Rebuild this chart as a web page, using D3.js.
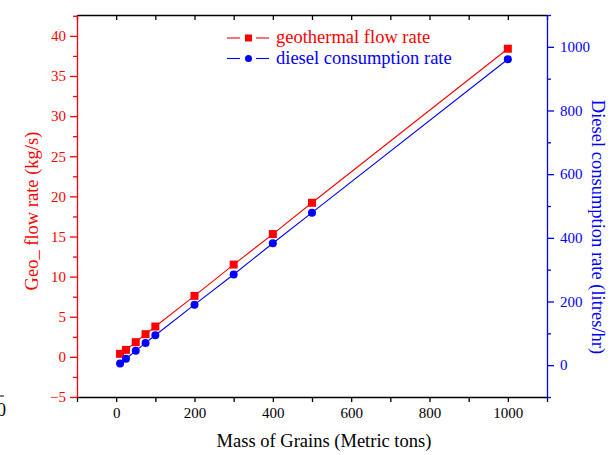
<!DOCTYPE html>
<html>
<head>
<meta charset="utf-8">
<script src="https://cdn.jsdelivr.net/npm/d3@7"></script>
<style>
  body { margin: 0; background: #fff; }
  text { font-family: "Liberation Serif", "Times New Roman", serif; }
</style>
</head>
<body>
<script>
// chart data
var mass = [10, 25, 50, 75, 100, 200, 300, 400, 500, 1000];
var geoFlow = [0.38, 0.87, 1.83, 2.83, 3.78, 7.6, 11.5, 15.3, 19.2, 38.4];
var diesel = [5, 20, 45, 70, 94, 190, 285, 383, 479, 961];

var xTicks = [0, 200, 400, 600, 800, 1000];
var leftTicks = [-5, 0, 5, 10, 15, 20, 25, 30, 35, 40];
var rightTicks = [0, 200, 400, 600, 800, 1000];

var width = 611;
var height = 455;
var plotLeft = 77, plotRight = 547, plotTop = 15, plotBottom = 397;

var svg = d3.select('body').append('svg').attr('width', width).attr('height', height);

var x = d3.scaleLinear().domain([-100, 1100]).range([plotLeft, plotRight]);
var yL = d3.scaleLinear().domain([-5, 42.6]).range([plotBottom, plotTop]);
var yR = d3.scaleLinear().domain([-100, 1100]).range([plotBottom, plotTop]);

var hundreds = d3.range(-100, 1101, 100);
var fmt = d3.format('d');

var styleText = function(g, color){
  g.attr('font-family', '"Liberation Serif", serif');
  g.selectAll('text').attr('fill', color)
    .style('font-size', '15px')
    .style('font-family', '"Liberation Serif", serif');
};

// top axis, ticks only
svg.append('g')
  .attr('transform', 'translate(0,' + plotTop + ')')
  .call(d3.axisBottom(x).tickValues(hundreds).tickSize(5).tickSizeOuter(0).tickFormat(''))
  .call(function(g){ g.selectAll('line,path').attr('stroke', '#000').attr('stroke-width', 1.3); });

// bottom axis
svg.append('g')
  .attr('transform', 'translate(0,' + plotBottom + ')')
  .call(d3.axisBottom(x).tickValues(hundreds).tickSize(5).tickSizeOuter(0).tickPadding(5)
    .tickFormat(function(d){ return xTicks.indexOf(d) >= 0 ? fmt(d) : ''; }))
  .call(function(g){
    g.selectAll('line,path').attr('stroke', '#000').attr('stroke-width', 1.3);
    styleText(g, '#000');
  });

// left axis (red)
var leftMinor = leftTicks.map(function(d){ return d + 2.5; }).filter(function(d){ return d <= 42.6; });
svg.append('g')
  .attr('transform', 'translate(' + plotLeft + ',0)')
  .call(d3.axisLeft(yL).tickValues(leftMinor).tickSize(4).tickSizeOuter(0).tickFormat(''))
  .call(function(g){ g.select('.domain').remove(); g.selectAll('line').attr('stroke', '#f00').attr('stroke-width', 1.3); });
svg.append('g')
  .attr('transform', 'translate(' + plotLeft + ',0)')
  .call(d3.axisLeft(yL).tickValues(leftTicks).tickSize(7).tickSizeOuter(0).tickPadding(4).tickFormat(fmt))
  .call(function(g){
    g.selectAll('line,path').attr('stroke', '#f00').attr('stroke-width', 1.3);
    styleText(g, '#f00');
  });

// right axis (blue)
var rightMinor = [-100, 100, 300, 500, 700, 900, 1100];
svg.append('g')
  .attr('transform', 'translate(' + plotRight + ',0)')
  .call(d3.axisRight(yR).tickValues(rightMinor).tickSize(4).tickSizeOuter(0).tickFormat(''))
  .call(function(g){ g.select('.domain').remove(); g.selectAll('line').attr('stroke', '#00f').attr('stroke-width', 1.3); });
svg.append('g')
  .attr('transform', 'translate(' + plotRight + ',0)')
  .call(d3.axisRight(yR).tickValues(rightTicks).tickSize(7).tickSizeOuter(0).tickPadding(6).tickFormat(fmt))
  .call(function(g){
    g.selectAll('line,path').attr('stroke', '#00f').attr('stroke-width', 1.3);
    styleText(g, '#00f');
  });

// series
var geoData = mass.map(function(m, i){ return {x: m, y: geoFlow[i]}; });
var dieselData = mass.map(function(m, i){ return {x: m, y: diesel[i]}; });

var lineL = d3.line().x(function(d){ return x(d.x); }).y(function(d){ return yL(d.y); });
var lineR = d3.line().x(function(d){ return x(d.x); }).y(function(d){ return yR(d.y); });

svg.append('path').datum(geoData).attr('d', lineL)
  .attr('fill', 'none').attr('stroke', '#f00').attr('stroke-width', 1.1);
svg.append('path').datum(dieselData).attr('d', lineR)
  .attr('fill', 'none').attr('stroke', '#00f').attr('stroke-width', 1.1);

svg.selectAll('.geo').data(geoData).enter().append('rect')
  .attr('class', 'geo')
  .attr('x', function(d){ return x(d.x) - 4; })
  .attr('y', function(d){ return yL(d.y) - 4; })
  .attr('width', 8).attr('height', 8)
  .attr('fill', '#f00');

svg.selectAll('.dsl').data(dieselData).enter().append('circle')
  .attr('class', 'dsl')
  .attr('cx', function(d){ return x(d.x); })
  .attr('cy', function(d){ return yR(d.y); })
  .attr('r', 4)
  .attr('fill', '#00f');

// legend
var legend = svg.append('g');
var legendItems = [
  {label: 'geothermal flow rate', color: '#f00', shape: 'square', y: 38},
  {label: 'diesel consumption rate', color: '#00f', shape: 'circle', y: 58.5}
];
legendItems.forEach(function(it){
  legend.append('line').attr('x1', 227).attr('x2', 240).attr('y1', it.y).attr('y2', it.y)
    .attr('stroke', it.color).attr('stroke-width', 1.1);
  legend.append('line').attr('x1', 256).attr('x2', 269).attr('y1', it.y).attr('y2', it.y)
    .attr('stroke', it.color).attr('stroke-width', 1.1);
  if (it.shape == 'square') {
    legend.append('rect').attr('x', 245).attr('y', it.y - 3.5).attr('width', 7).attr('height', 7).attr('fill', it.color);
  } else {
    legend.append('circle').attr('cx', 248.5).attr('cy', it.y).attr('r', 3.5).attr('fill', it.color);
  }
  legend.append('text').attr('x', 276).attr('y', it.y + 5)
    .attr('fill', it.color).style('font-size', '18.5px').text(it.label);
});

// axis titles
svg.append('text')
  .attr('x', (plotLeft + plotRight) / 2 + 12).attr('y', 447)
  .attr('text-anchor', 'middle').attr('fill', '#000')
  .style('font-size', '18.5px')
  .text('Mass of Grains (Metric tons)');

svg.append('text')
  .attr('transform', 'translate(38,211) rotate(-90)')
  .attr('text-anchor', 'middle').attr('fill', '#f00')
  .style('font-size', '18.5px')
  .text('Geo_ flow rate (kg/s)');

svg.append('text')
  .attr('transform', 'translate(592,227) rotate(90)')
  .attr('text-anchor', 'middle').attr('fill', '#00f')
  .style('font-size', '18.5px')
  .text('Diesel consumption rate (litres/hr)');

// clipped leftover at bottom left
svg.append('line').attr('x1', 0).attr('x2', 4).attr('y1', 396).attr('y2', 396)
  .attr('stroke', '#000').attr('stroke-width', 1);
svg.append('text').attr('x', 6).attr('y', 416).attr('text-anchor', 'end')
  .attr('fill', '#000').style('font-size', '18px').text('0');
</script>
</body>
</html>
